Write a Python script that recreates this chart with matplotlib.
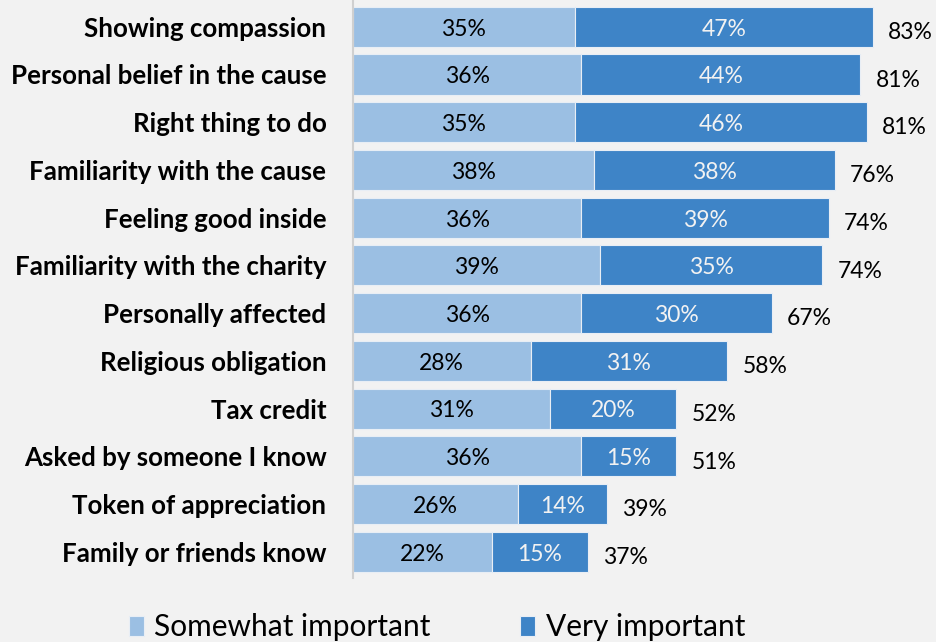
import matplotlib.pyplot as plt

categories = [
    "Showing compassion",
    "Personal belief in the cause",
    "Right thing to do",
    "Familiarity with the cause",
    "Feeling good inside",
    "Familiarity with the charity",
    "Personally affected",
    "Religious obligation",
    "Tax credit",
    "Asked by someone I know",
    "Token of appreciation",
    "Family or friends know",
]
somewhat = [35, 36, 35, 38, 36, 39, 36, 28, 31, 36, 26, 22]
very = [47, 44, 46, 38, 39, 35, 30, 31, 20, 15, 14, 15]
totals = [83, 81, 81, 76, 74, 74, 67, 58, 52, 51, 39, 37]

light = "#9bbfe3"
dark = "#3e84c7"
bg = "#f2f2f2"

plt.rcParams["font.family"] = ["Lato", "DejaVu Sans"]

fig = plt.figure(figsize=(9.36, 6.42), dpi=100, facecolor=bg)
ax = fig.add_axes([0.377, 0.0997, 0.61, 0.9003])
ax.set_facecolor(bg)

y = list(range(len(categories)))
b1 = ax.barh(y, somewhat, height=0.84, color=light, edgecolor="#e8eef5", linewidth=0.8,
             label="Somewhat important")
b2 = ax.barh(y, very, left=somewhat, height=0.84, color=dark, edgecolor="#e8eef5",
             linewidth=0.8, label="Very important")

for i in y:
    ax.text(somewhat[i] / 2, i + 0.05, f"{somewhat[i]}%", ha="center", va="center",
            fontsize=16.5, color="black")
    ax.text(somewhat[i] + very[i] / 2, i + 0.05, f"{very[i]}%", ha="center", va="center",
            fontsize=16.5, color="#f2f2f2")
    ax.text(somewhat[i] + very[i] + 2.4, i + 0.12, f"{totals[i]}%", ha="left",
            va="center", fontsize=16.5, color="black")

ax.set_xlim(0, 90)
ax.set_ylim(11.55, -0.56)
ax.set_xticks([])
ax.set_yticks(y)
ax.set_yticklabels(categories, fontsize=18.6, fontweight="bold")
ax.tick_params(axis="y", length=0, pad=19)
for s in ["top", "right", "bottom"]:
    ax.spines[s].set_visible(False)
ax.spines["left"].set_color("#d0d0d0")
ax.spines["left"].set_linewidth(1.5)

fig.legend(handles=[b1, b2], loc="center", bbox_to_anchor=(0.467, 0.023), ncol=2,
           frameon=False, fontsize=21.5, handlelength=0.5, handleheight=0.65,
           handletextpad=0.35, columnspacing=3.0)

fig.savefig("out.png", dpi=100, facecolor=bg)
